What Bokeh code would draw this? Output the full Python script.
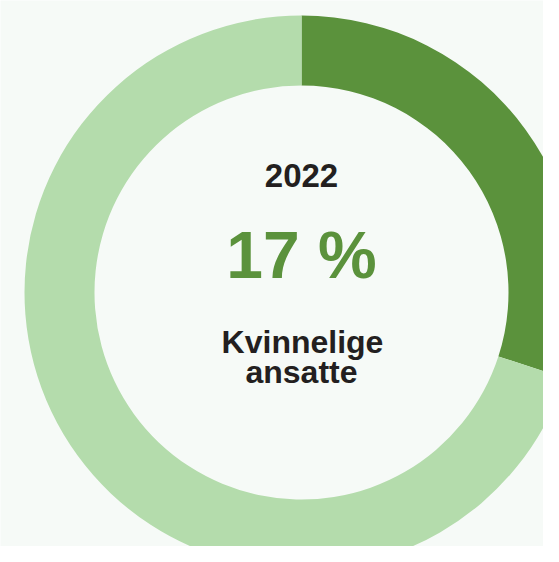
import numpy as np
from bokeh.plotting import figure
from bokeh.models import ColumnDataSource
from bokeh.core.properties import value
from bokeh.embed import file_html
from bokeh.resources import INLINE

# data
labels = ["Kvinnelige", "Andre"]
shares = [30, 70]
colors = ["#5b923c", "#b4dcac"]
year_label = "2022"
pct_label = "17 %"
caption_lines = ["Kvinnelige", "ansatte"]

BG = "#f6faf7"
W, H = 543, 546
cx, cy = 301, H - 292

fracs = np.array(shares, dtype=float) / sum(shares)
cum = np.concatenate([[0], np.cumsum(fracs)])
# clockwise from 12 o'clock
start = np.pi / 2 - cum[1:] * 2 * np.pi
end = np.pi / 2 - cum[:-1] * 2 * np.pi

src = ColumnDataSource(dict(start=start, end=end, color=colors, label=labels))

p = figure(width=W, height=H, x_range=(0, W), y_range=(0, H),
           output_backend="svg", toolbar_location=None, min_border=0)
p.axis.visible = False
p.grid.visible = False
p.outline_line_color = None
p.background_fill_color = BG
p.border_fill_color = BG

p.annular_wedge(x=cx, y=cy, inner_radius=207, outer_radius=277,
                inner_radius_units="screen", outer_radius_units="screen",
                start_angle="start", end_angle="end", direction="anticlock",
                fill_color="color", line_color=None, source=src)

font = value("Liberation Sans")
p.text(x=[cx], y=[H - 175], text=[year_label], text_font=font, text_font_style="bold",
       text_font_size="33px", text_align="center", text_baseline="alphabetic",
       text_color="#231f20")
p.text(x=[cx], y=[H - 254], text=[pct_label], text_font=font, text_font_style="bold",
       text_font_size="66px", text_align="center", text_baseline="alphabetic",
       text_color="#5b923c")
p.text(x=[cx + 1, cx], y=[H - 341, H - 371], text=caption_lines, text_font=font,
       text_font_style="bold", text_font_size="32px", text_align="center",
       text_baseline="alphabetic", text_color="#231f20")

open("out.html", "w").write(file_html(p, INLINE))
